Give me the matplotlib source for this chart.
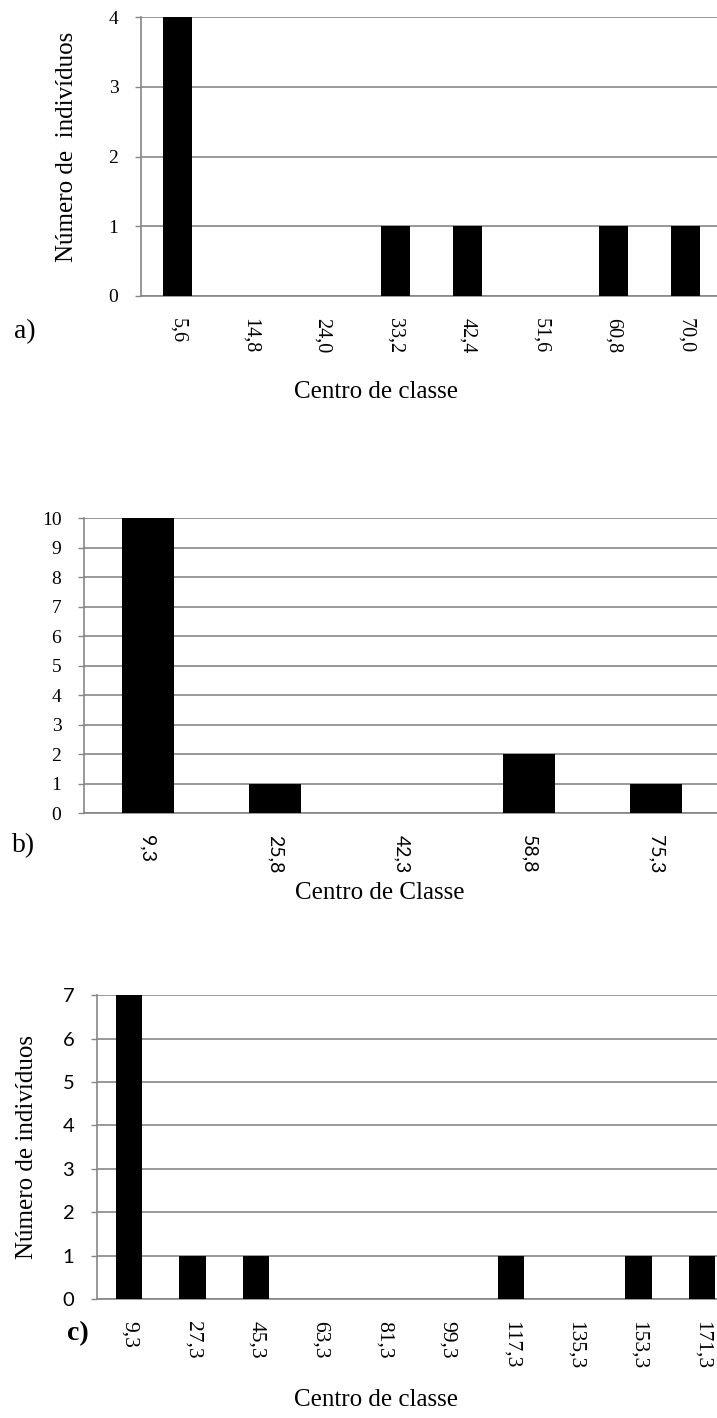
#!/usr/bin/env python

from matplotlib import pyplot as plt
import numpy as np

# dados dos tres histogramas
a_centros = ["5,6", "14,8", "24,0", "33,2", "42,4", "51,6", "60,8", "70,0"]
a_freq = [4, 0, 0, 1, 1, 0, 1, 1]

b_centros = ["9,3", "25,8", "42,3", "58,8", "75,3"]
b_freq = [10, 1, 0, 2, 1]

c_centros = ["9,3", "27,3", "45,3", "63,3", "81,3", "99,3", "117,3", "135,3", "153,3", "171,3"]
c_freq = [7, 1, 1, 0, 0, 0, 1, 0, 1, 1]

W, H = 717, 1418
SERIF = "Liberation Serif"
SANS = "Lato"
GRAY = "#868686"

fig = plt.figure(figsize=(W / 100, H / 100), dpi=100)


def add_ax(left, top, right, bottom):
    # pixel box -> figure fraction
    return fig.add_axes([left / W, 1 - bottom / H, (right - left) / W, (bottom - top) / H])


def histo(ax, centros, freq, width, xfont, xsize, yfont, ysize):
    x = np.arange(len(centros))
    ax.bar(x, freq, width=width, color="black", zorder=3)
    ax.set_xlim(-0.5, len(centros) - 0.5)
    ax.set_ylim(0, max(freq))
    ax.set_yticks(range(0, max(freq) + 1))
    ax.set_xticks(x)
    ax.set_xticklabels(centros, rotation=270, family=xfont, fontsize=xsize)
    for t in ax.get_yticklabels():
        t.set_family(yfont)
        t.set_fontsize(ysize)
    ax.tick_params(axis="x", length=0, pad=16)
    ax.tick_params(axis="y", length=4.3, width=1, color=GRAY, pad=12)
    ax.yaxis.grid(True, color=GRAY, lw=1.2)
    ax.set_axisbelow(True)
    for s in ("top", "right"):
        ax.spines[s].set_visible(False)
    for s in ("left", "bottom"):
        ax.spines[s].set_color(GRAY)
        ax.spines[s].set_linewidth(1.2)


# a)
ax1 = add_ax(141, 17.3, 722, 296)
histo(ax1, a_centros, a_freq, 0.4, SERIF, 14.5, SERIF, 14)
fig.text(67 / W, 1 - 147 / H, "Número de  indivíduos", rotation=90, ha="center", va="center",
         family=SERIF, fontsize=18)
fig.text(376 / W, 1 - 392 / H, "Centro de classe", ha="center", va="center", family=SERIF, fontsize=18)
fig.text(14 / W, 1 - 332 / H, "a)", ha="left", va="center", family=SERIF, fontsize=20)

# b)
ax2 = add_ax(84, 518.3, 720, 813)
histo(ax2, b_centros, b_freq, 0.41, SANS, 14, SERIF, 14)
fig.text(380 / W, 1 - 893 / H, "Centro de Classe", ha="center", va="center", family=SERIF, fontsize=18)
fig.text(12 / W, 1 - 846 / H, "b)", ha="left", va="center", family=SERIF, fontsize=20)

# c)
ax3 = add_ax(97, 995.3, 734, 1299)
histo(ax3, c_centros, c_freq, 0.41, SERIF, 15.5, SANS, 14.5)
fig.text(27 / W, 1 - 1147 / H, "Número de indivíduos", rotation=90, ha="center", va="center",
         family=SERIF, fontsize=18)
fig.text(376 / W, 1 - 1400 / H, "Centro de classe", ha="center", va="center", family=SERIF, fontsize=18)
fig.text(67 / W, 1 - 1334 / H, "c)", ha="left", va="center", family=SERIF, fontsize=20,
         fontweight="bold")

plt.savefig("out.png", dpi=100)
